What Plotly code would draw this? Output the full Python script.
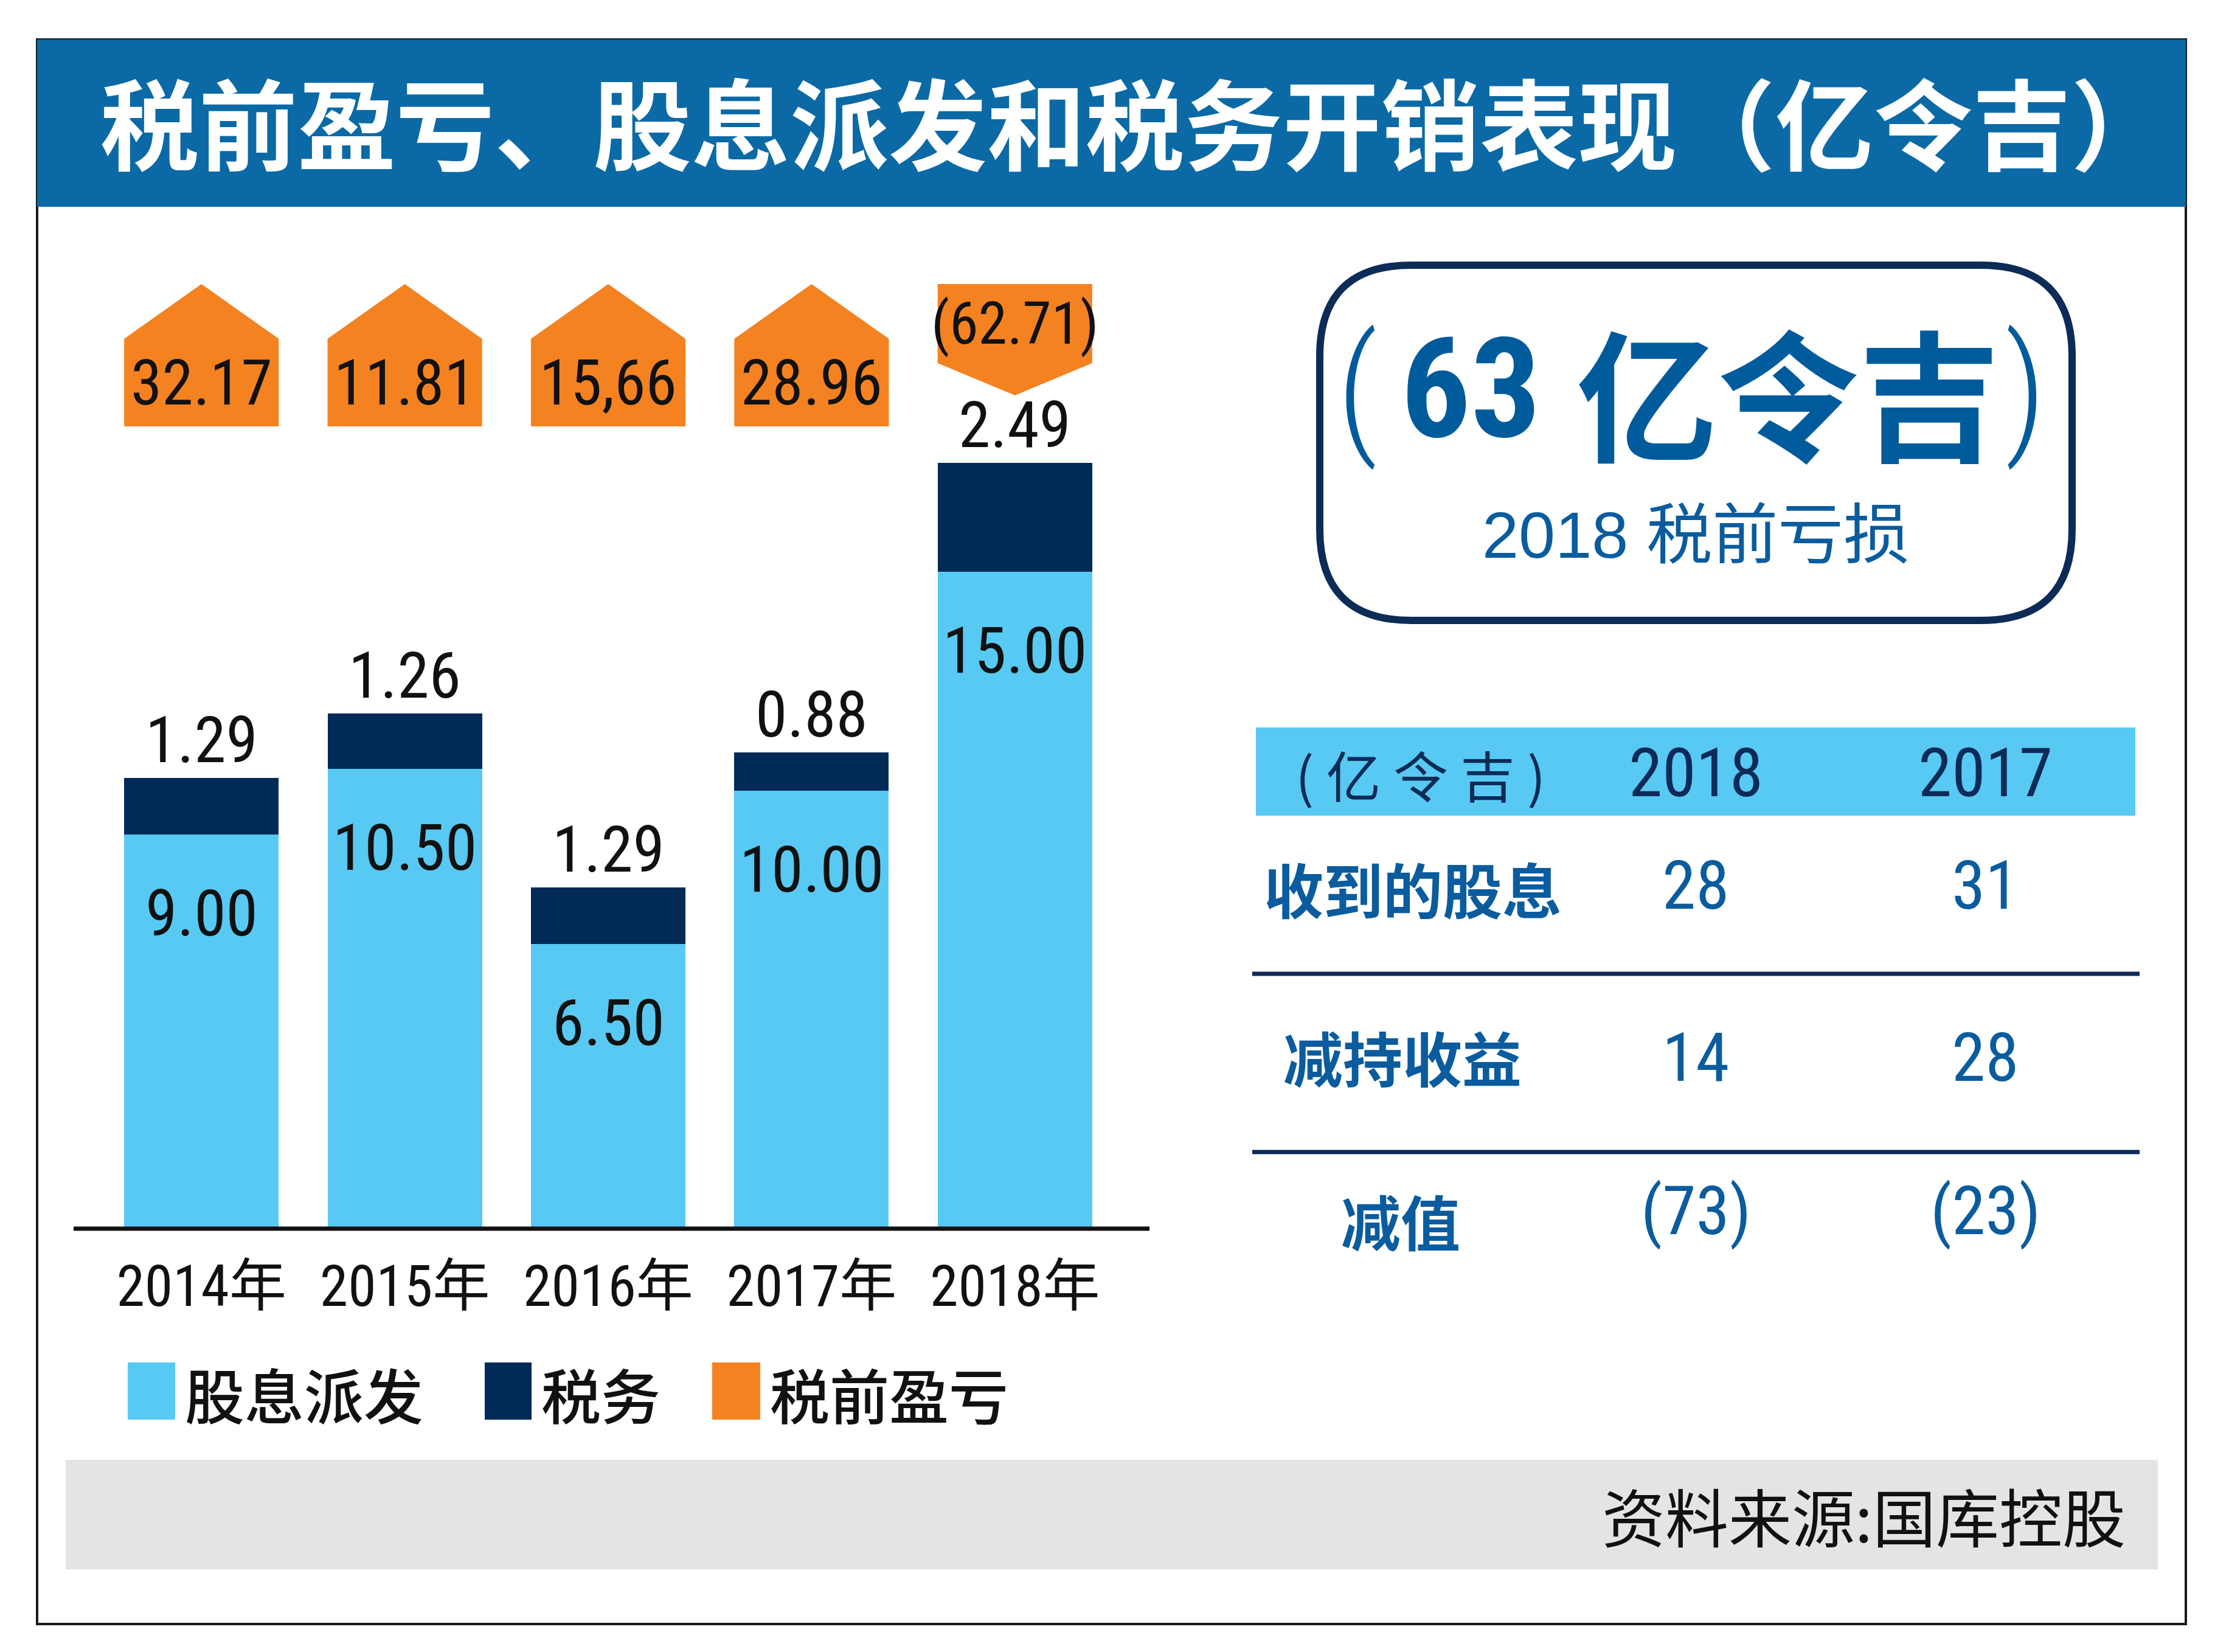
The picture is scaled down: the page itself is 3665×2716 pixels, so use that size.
import plotly.graph_objects as go

# reference canvas size (positions below are measured in it)
W, H = 3665, 2716
FIG_H = 2700          # figure height (page has 8px body margin)
MARGIN = 8

# ---------------- data ----------------
years = ["2014年", "2015年", "2016年", "2017年", "2018年"]
dividends = [9.00, 10.50, 6.50, 10.00, 15.00]
taxes = [1.29, 1.26, 1.29, 0.88, 2.49]
pretax = [32.17, 11.81, 15.66, 28.96, -62.71]
pretax_labels = ["32.17", "11.81", "15,66", "28.96", "(62.71)"]

table_cols = ["2018", "2017"]
table_rows = ["收到的股息", "减持收益", "减值"]
table_2018 = [28, 14, -73]
table_2017 = [31, 28, -23]

legend_names = ["股息派发", "税务", "税前盈亏"]

# ---------------- styles ----------------
LIGHT = "#58C9F3"
NAVY = "#022A57"
ORANGE = "#F58220"
HEADER = "#0B6AA6"
BLUE_TXT = "#0A5C9E"
BIG_TXT = "#005B9C"
NARROW = ("Roboto Condensed, Open Sans Condensed, Liberation Sans Narrow, "
          "Liberation Sans, Noto Sans CJK SC, sans-serif")
SANS = "Liberation Sans, Arial, Noto Sans CJK SC, sans-serif"
CJK = "Noto Sans CJK SC, sans-serif"


def px(x):
    return (x - MARGIN) / (W - 2 * MARGIN)


def py(y):
    return 1 - (y - MARGIN) / FIG_H


def fmt_paren(v):
    return f"({abs(v)})" if v < 0 else f"{v}"


fig = go.Figure()
fig.add_trace(go.Bar(x=years, y=dividends, marker=dict(color=LIGHT, line=dict(width=0)),
                     name=legend_names[0], showlegend=False))
fig.add_trace(go.Bar(x=years, y=taxes, marker=dict(color=NAVY, line=dict(width=0)),
                     name=legend_names[1], showlegend=False))

shapes = []
ann = []

# outer border and header band
shapes.append(dict(type="rect", xref="paper", yref="paper", x0=px(61), x1=px(3594), y0=py(2670), y1=py(65),
                   line=dict(color="#1a1a1a", width=4), fillcolor="rgba(0,0,0,0)", layer="below"))
shapes.append(dict(type="rect", xref="paper", yref="paper", x0=px(61), x1=px(3594), y0=py(340), y1=py(65),
                   line=dict(width=0), fillcolor=HEADER, layer="below"))
ann.append(dict(text="税前盈亏、股息派发和税务开销表现（亿令吉）", x=px(1866), y=py(197), xref="paper", yref="paper",
                showarrow=False, xanchor="center", yanchor="middle",
                font=dict(family=CJK, size=162, color="white", weight="bold")))

# baseline
shapes.append(dict(type="line", xref="paper", yref="paper", x0=px(121), x1=px(1890), y0=py(2020), y1=py(2020),
                   line=dict(color="#111111", width=7), layer="above"))

# bar labels
for i, yr in enumerate(years):
    ann.append(dict(text=f"{dividends[i]:.2f}", x=yr, y=dividends[i], xref="x", yref="y", showarrow=False,
                    xanchor="center", yanchor="middle", yshift=-130,
                    font=dict(family=NARROW, size=106, color="#111111")))
    ann.append(dict(text=f"{taxes[i]:.2f}", x=yr, y=dividends[i] + taxes[i], xref="x", yref="y", showarrow=False,
                    xanchor="center", yanchor="middle", yshift=62,
                    font=dict(family=NARROW, size=106, color="#111111")))

# pre-tax arrows
half = 0.38
for i, v in enumerate(pretax):
    xl, xr = i - half, i + half
    if v >= 0:
        path = (f"M {xl} {py(701)} L {xl} {py(557)} L {i} {py(467)} L {xr} {py(557)} "
                f"L {xr} {py(701)} Z")
        ty, sz = 630, 104
    else:
        path = (f"M {xl} {py(467)} L {xr} {py(467)} L {xr} {py(597)} L {i} {py(650)} "
                f"L {xl} {py(597)} Z")
        ty, sz = 532, 96
    shapes.append(dict(type="path", xref="x", yref="paper", path=path, fillcolor=ORANGE,
                       line=dict(width=0), layer="above"))
    ann.append(dict(text=pretax_labels[i], x=years[i], y=py(ty), xref="x", yref="paper", showarrow=False,
                    xanchor="center", yanchor="middle",
                    font=dict(family=NARROW, size=sz, color="#111111")))

# legend (manual)
leg_sq = [(210, 288), (797, 874), (1171, 1250)]
leg_tx = [302, 888, 1264]
leg_col = [LIGHT, NAVY, ORANGE]
for (a, b), tx, c, name in zip(leg_sq, leg_tx, leg_col, legend_names):
    shapes.append(dict(type="rect", xref="paper", yref="paper", x0=px(a), x1=px(b), y0=py(2334), y1=py(2240),
                       fillcolor=c, line=dict(width=0)))
    ann.append(dict(text=name, x=px(tx), y=py(2290), xref="paper", yref="paper", showarrow=False,
                    xanchor="left", yanchor="middle",
                    font=dict(family=CJK, size=98, color="#111111", weight=500)))


# rounded box with headline
def rounded_rect(x0, y0, x1, y1, r):
    pts = [("M", [(x0 + r, y0)]), ("L", [(x1 - r, y0)]), ("Q", [(x1, y0), (x1, y0 + r)]),
           ("L", [(x1, y1 - r)]), ("Q", [(x1, y1), (x1 - r, y1)]), ("L", [(x0 + r, y1)]),
           ("Q", [(x0, y1), (x0, y1 - r)]), ("L", [(x0, y0 + r)]), ("Q", [(x0, y0), (x0 + r, y0)])]
    s = ""
    for cmd, ps in pts:
        s += cmd + " " + " ".join(f"{px(a):.5f},{py(b):.5f}" for a, b in ps) + " "
    return s + "Z"


shapes.append(dict(type="path", xref="paper", yref="paper", path=rounded_rect(2170, 436, 3407, 1020, 150),
                   line=dict(color="#0C2B57", width=12), fillcolor="rgba(0,0,0,0)"))
headline = round(abs(pretax[-1]))
big_parts = [("(", 2232, NARROW, 232, 300), (f"{headline}", 2418, NARROW, 228, "bold"),
             ("亿令吉", 2940, CJK, 232, "bold"), (")", 3330, NARROW, 232, 300)]
for t, cx, fam, sz, wt in big_parts:
    ann.append(dict(text=t, x=px(cx), y=py(640), xref="paper", yref="paper", showarrow=False,
                    xanchor="center", yanchor="middle",
                    font=dict(family=fam, size=sz, color=BIG_TXT, weight=wt)))
ann.append(dict(text=f"{years[-1][:4]} 税前亏损", x=px(2788), y=py(880), xref="paper", yref="paper",
                showarrow=False, xanchor="center", yanchor="middle",
                font=dict(family=SANS, size=108, color=BLUE_TXT)))

# table
shapes.append(dict(type="rect", xref="paper", yref="paper", x0=px(2065), x1=px(3511), y0=py(1341), y1=py(1196),
                   fillcolor=LIGHT, line=dict(width=0)))
for yy in (1601, 1894):
    shapes.append(dict(type="line", xref="paper", yref="paper", x0=px(2059), x1=px(3518), y0=py(yy), y1=py(yy),
                       line=dict(color="#0C2B57", width=7)))
col_x = [2788, 3264]
ann.append(dict(text="( 亿 令 吉 )", x=px(2335), y=py(1272), xref="paper", yref="paper", showarrow=False,
                xanchor="center", yanchor="middle", font=dict(family=CJK, size=90, color="#0C2B57")))
for cx, c in zip(col_x, table_cols):
    ann.append(dict(text=c, x=px(cx), y=py(1270), xref="paper", yref="paper", showarrow=False,
                    xanchor="center", yanchor="middle", font=dict(family=NARROW, size=112, color="#0C2B57")))
row_y = [1455, 1738, 1990]
row_lx = [2323, 2306, 2303]
row_ly = [1459, 1736, 2005]
for r, name in enumerate(table_rows):
    ann.append(dict(text=name, x=px(row_lx[r]), y=py(row_ly[r]), xref="paper", yref="paper", showarrow=False,
                    xanchor="center", yanchor="middle",
                    font=dict(family=CJK, size=98, color=BLUE_TXT, weight="bold")))
    for cx, vals in zip(col_x, (table_2018, table_2017)):
        ann.append(dict(text=fmt_paren(vals[r]), x=px(cx), y=py(row_y[r]), xref="paper", yref="paper",
                        showarrow=False, xanchor="center", yanchor="middle",
                        font=dict(family=NARROW, size=112, color=BLUE_TXT)))

# footer
shapes.append(dict(type="rect", xref="paper", yref="paper", x0=px(108), x1=px(3548), y0=py(2580), y1=py(2400),
                   fillcolor="#E4E4E4", line=dict(width=0), layer="below"))
ann.append(dict(text="资料来源:国库控股", x=px(3497), y=py(2490), xref="paper", yref="paper", showarrow=False,
                xanchor="right", yanchor="middle", font=dict(family=CJK, size=104, color="#111111")))

fig.update_layout(
    height=FIG_H,
    margin=dict(l=0, r=0, t=0, b=0, pad=0),
    paper_bgcolor="white", plot_bgcolor="rgba(0,0,0,0)",
    barmode="stack", bargap=0.24,
    showlegend=False,
    shapes=shapes, annotations=ann,
    xaxis=dict(domain=[px(164), px(1836)], type="category", showline=False, showgrid=False, zeroline=False,
               ticks="", ticklabelstandoff=32, tickangle=0,
               tickfont=dict(family=NARROW, size=94, color="#111111")),
    yaxis=dict(domain=[py(2020), py(580)], range=[0, 20], visible=False, showgrid=False, zeroline=False),
)

fig.write_html("out.html")
